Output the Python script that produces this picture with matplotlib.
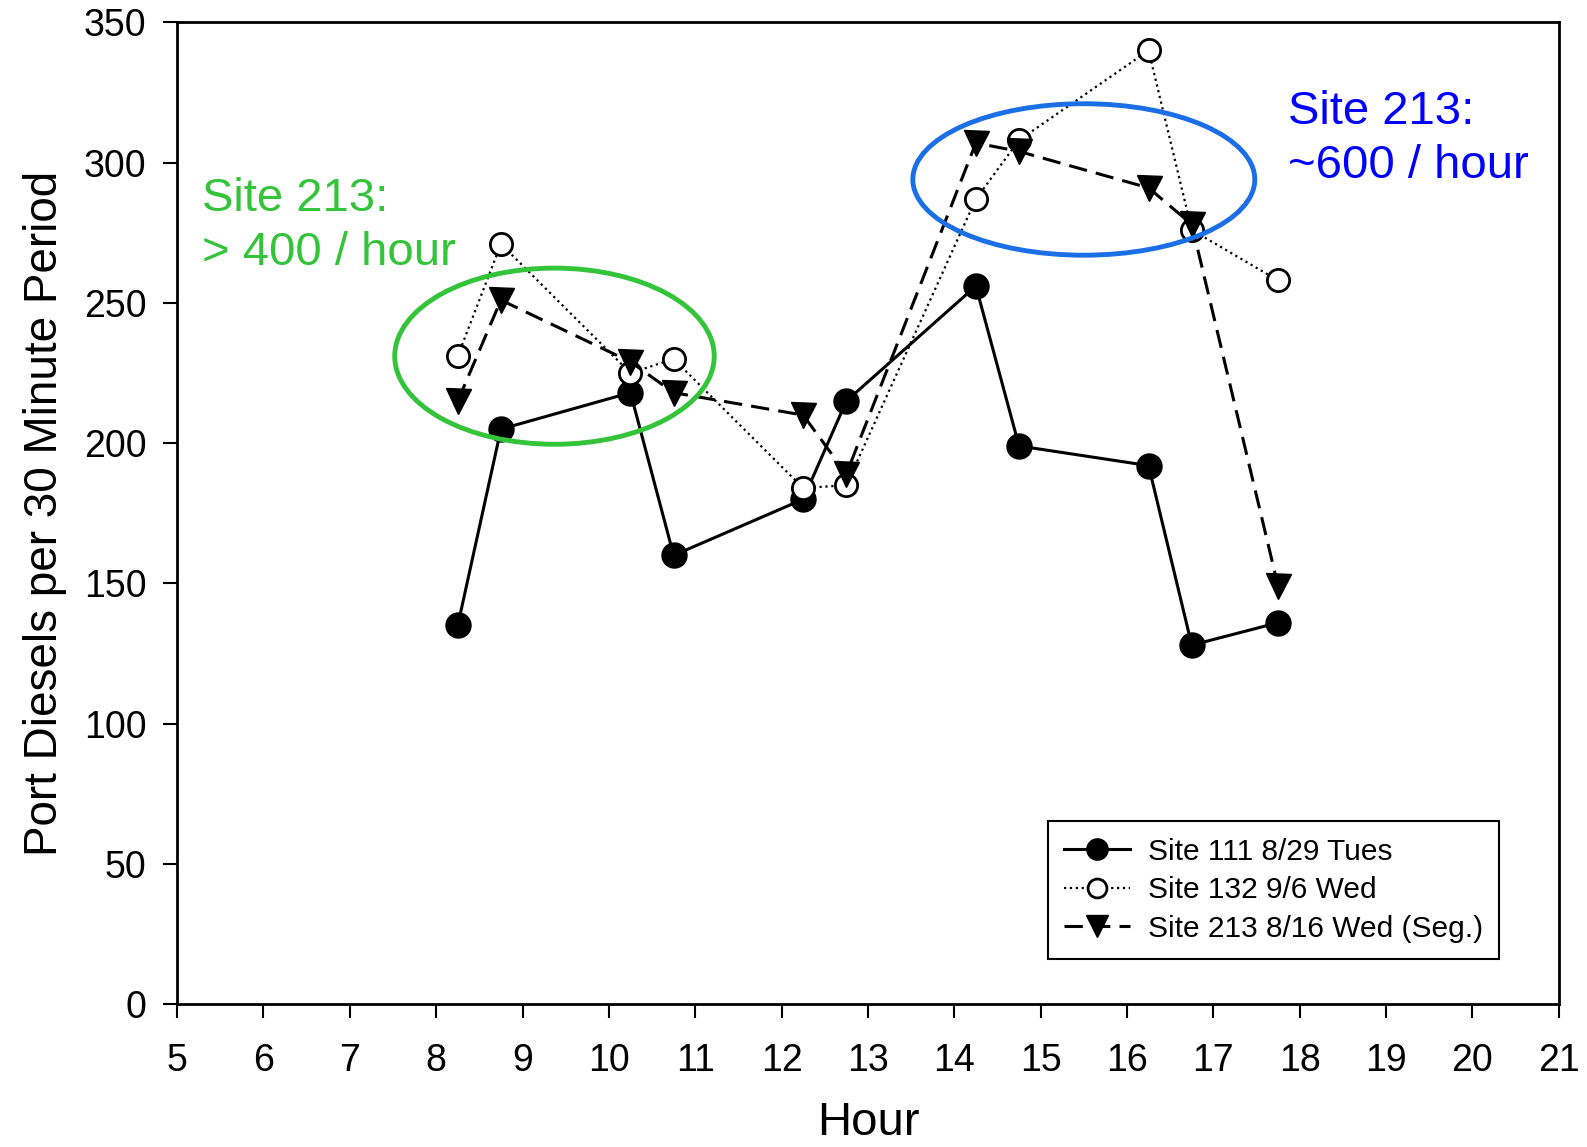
import matplotlib.pyplot as plt
from matplotlib.patches import Ellipse

plt.rcParams['font.family'] = ['Liberation Sans', 'DejaVu Sans']

## Half-hour time stamps (hour of day) and counts.
hours = [8.25, 8.75, 10.25, 10.75, 12.25, 12.75, 14.25, 14.75, 16.25, 16.75, 17.75]
site111 = [135, 205, 218, 160, 180, 215, 256, 199, 192, 128, 136]
site132 = [231, 271, 225, 230, 184, 185, 287, 308, 340, 276, 258]
site213 = [215, 251, 229, 218, 210, 189, 307, 304, 291, 278, 149]

labels = ["Site 111 8/29 Tues", "Site 132 9/6 Wed", "Site 213 8/16 Wed (Seg.)"]
xticks = list(range(5, 22))
yticks = list(range(0, 351, 50))

fig = plt.figure(figsize=(15.87, 11.47), dpi=100)
ax = fig.add_axes([0.1116, 0.1245, 0.8706, 0.856])

ax.plot(hours, site111, color='black', linestyle='-', linewidth=2.2,
        marker='o', markersize=18, markerfacecolor='black', label=labels[0], zorder=3)
ax.plot(hours, site132, color='black', linestyle=':', linewidth=1.6,
        marker='o', markersize=16, markerfacecolor='white', markeredgewidth=2,
        label=labels[1], zorder=4)
ax.plot(hours, site213, color='black', linestyle=(0, (6, 3)), linewidth=2.2,
        marker='v', markersize=18, markerfacecolor='black', label=labels[2], zorder=5)

## Highlight circles and notes.
ax.add_patch(Ellipse((9.37, 231), 3.70, 62.8, fill=False, edgecolor='#33c43a',
                     linewidth=3.5, zorder=6))
ax.add_patch(Ellipse((15.5, 294), 3.96, 54, fill=False, edgecolor='#1a6fe6',
                     linewidth=3.5, zorder=6))
ax.text(5.29, 295, "Site 213:\n> 400 / hour", color='#33c43a', fontsize=34,
        va='top', ha='left', linespacing=1.3)
ax.text(17.86, 326, "Site 213:\n~600 / hour", color='#0000ff', fontsize=34,
        va='top', ha='left', linespacing=1.3)

ax.set_xlim(5, 21)
ax.set_ylim(0, 350)
ax.set_xticks(xticks)
ax.set_yticks(yticks)
ax.tick_params(direction='out', length=10, width=1.5, labelsize=27, pad=12)
ax.tick_params(axis='x', pad=18)
for s in ax.spines.values():
    s.set_linewidth(2)

ax.set_xlabel("Hour", fontsize=34, labelpad=16)
ax.set_ylabel("Port Diesels per 30 Minute Period", fontsize=33, labelpad=12)

leg = ax.legend(loc='lower right', bbox_to_anchor=(0.957, 0.046), borderaxespad=0,
                fontsize=21.5, fancybox=False, edgecolor='black', framealpha=1,
                handlelength=2.2, handletextpad=0.6, borderpad=0.55,
                labelspacing=0.35, markerscale=0.85)
leg.get_frame().set_linewidth(1.5)

fig.savefig("out.png", dpi=100)
